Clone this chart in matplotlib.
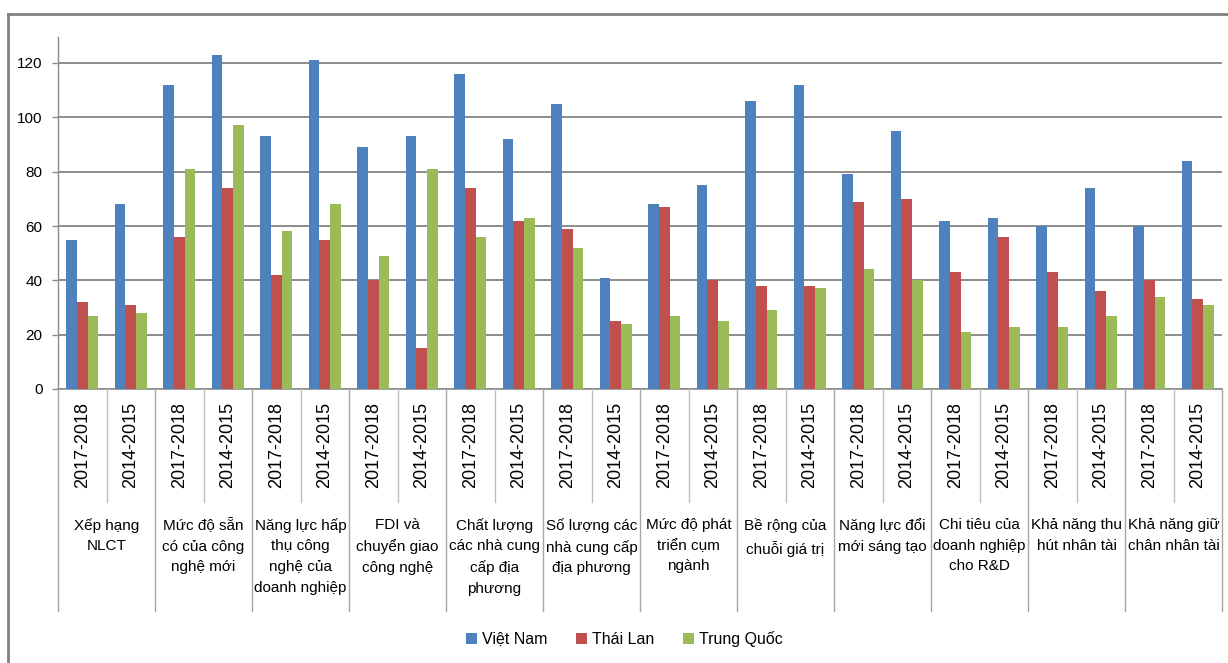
import numpy as np
import matplotlib
matplotlib.use('Agg')
import matplotlib.pyplot as plt
from matplotlib.lines import Line2D
from matplotlib.patches import Patch
import matplotlib.transforms as mtransforms

plt.rcParams['font.family'] = ['Liberation Sans', 'DejaVu Sans']

# chỉ số theo từng nhóm, mỗi nhóm hai kỳ: 2017-2018 rồi 2014-2015
nhom = ['Xếp hạng\nNLCT',
        'Mức độ sẵn\ncó của công\nnghệ mới',
        'Năng lực hấp\nthụ công\nnghệ của\ndoanh nghiệp',
        'FDI và\nchuyển giao\ncông nghệ',
        'Chất lượng\ncác nhà cung\ncấp địa\nphương',
        'Số lượng các\nnhà cung cấp\nđịa phương',
        'Mức độ phát\ntriển cụm\nngành',
        'Bề rộng của\nchuỗi giá trị',
        'Năng lực đổi\nmới sáng tạo',
        'Chi tiêu của\ndoanh nghiệp\ncho R&D',
        'Khả năng thu\nhút nhân tài',
        'Khả năng giữ\nchân nhân tài']
ky = ['2017-2018', '2014-2015']

viet_nam = [55, 68, 112, 123, 93, 121, 89, 93, 116, 92, 105, 41,
            68, 75, 106, 112, 79, 95, 62, 63, 60, 74, 60, 84]
thai_lan = [32, 31, 56, 74, 42, 55, 40, 15, 74, 62, 59, 25,
            67, 40, 38, 38, 69, 70, 43, 56, 43, 36, 40, 33]
trung_quoc = [27, 28, 81, 97, 58, 68, 49, 81, 56, 63, 52, 24,
              27, 25, 29, 37, 44, 40, 21, 23, 23, 27, 34, 31]

series = [('Việt Nam', viet_nam, '#4F81BD'),
          ('Thái Lan', thai_lan, '#C0504D'),
          ('Trung Quốc', trung_quoc, '#9BBB59')]

W, H = 1228, 663
fig = plt.figure(figsize=(W / 100, H / 100), dpi=100)

ax_l, ax_r, ax_t, ax_b = 58, 1222, 37, 389
ax = fig.add_axes([ax_l / W, 1 - ax_b / H, (ax_r - ax_l) / W, (ax_b - ax_t) / H])

x = np.arange(len(viet_nam))
bw = 0.22
for k, (ten, vals, mau) in enumerate(series):
    ax.bar(x + (k - 1) * bw, vals, width=bw, color=mau, zorder=3, label=ten)

ax.set_xlim(-0.5, len(x) - 0.5)
ax.set_ylim(0, 120 * (ax_b - ax_t) / (ax_b - 63))
ax.set_yticks(range(0, 121, 20))
ax.yaxis.grid(True, color='#8c8c8c', linewidth=1.4, zorder=0)
ax.set_axisbelow(True)
ax.set_xticks([])
ax.tick_params(axis='y', length=4, width=1, color='#8c8c8c', pad=7, labelsize=11)
for s in ['top', 'right', 'bottom']:
    ax.spines[s].set_visible(False)
ax.spines['left'].set_color('#8c8c8c')
ax.spines['left'].set_linewidth(1)

trans = mtransforms.blended_transform_factory(ax.transData, ax.transAxes)
h_px = ax_b - ax_t

def fy(px):
    # pixel row of the figure -> axes fraction
    return (ax_b - px) / h_px

# x axis line and category separators
ax.plot([-0.5, len(x) - 0.5], [0, 0], transform=trans, color='#8c8c8c', lw=1.2, clip_on=False)
for g in range(len(nhom)):
    ax.plot([2 * g + 0.5] * 2, [0, fy(502)], transform=trans, color='#bdbdbd', lw=1, clip_on=False)
for g in range(len(nhom) + 1):
    ax.plot([2 * g - 0.5] * 2, [0, fy(611)], transform=trans, color='#a6a6a6', lw=1, clip_on=False)

# year labels (rotated) and group labels
for i in x:
    ax.text(i, fy(402), ky[i % 2], transform=trans, rotation=90, ha='center', va='top',
            fontsize=13, color='#000000')
for g, ten in enumerate(nhom):
    ax.text(2 * g + 0.5, fy(518), ten, transform=trans, ha='center', va='top',
            multialignment='center', fontsize=11, linespacing=1.6, color='#000000')

handles = [Patch(facecolor=m, edgecolor='none') for _, _, m in series]
fig.legend(handles, [t for t, _, _ in series], loc='center', ncol=3,
           bbox_to_anchor=(624 / W, 1 - 639 / H), frameon=False, fontsize=11.5,
           handlelength=0.7, handleheight=0.7, handletextpad=0.3, columnspacing=1.8)

# outer chart border
fig.add_artist(Line2D([8 / W, 1], [1 - 14 / H] * 2, color='#808080', lw=2))
fig.add_artist(Line2D([8 / W] * 2, [0, 1 - 14 / H], color='#808080', lw=2))

fig.savefig('out.png', dpi=100)
